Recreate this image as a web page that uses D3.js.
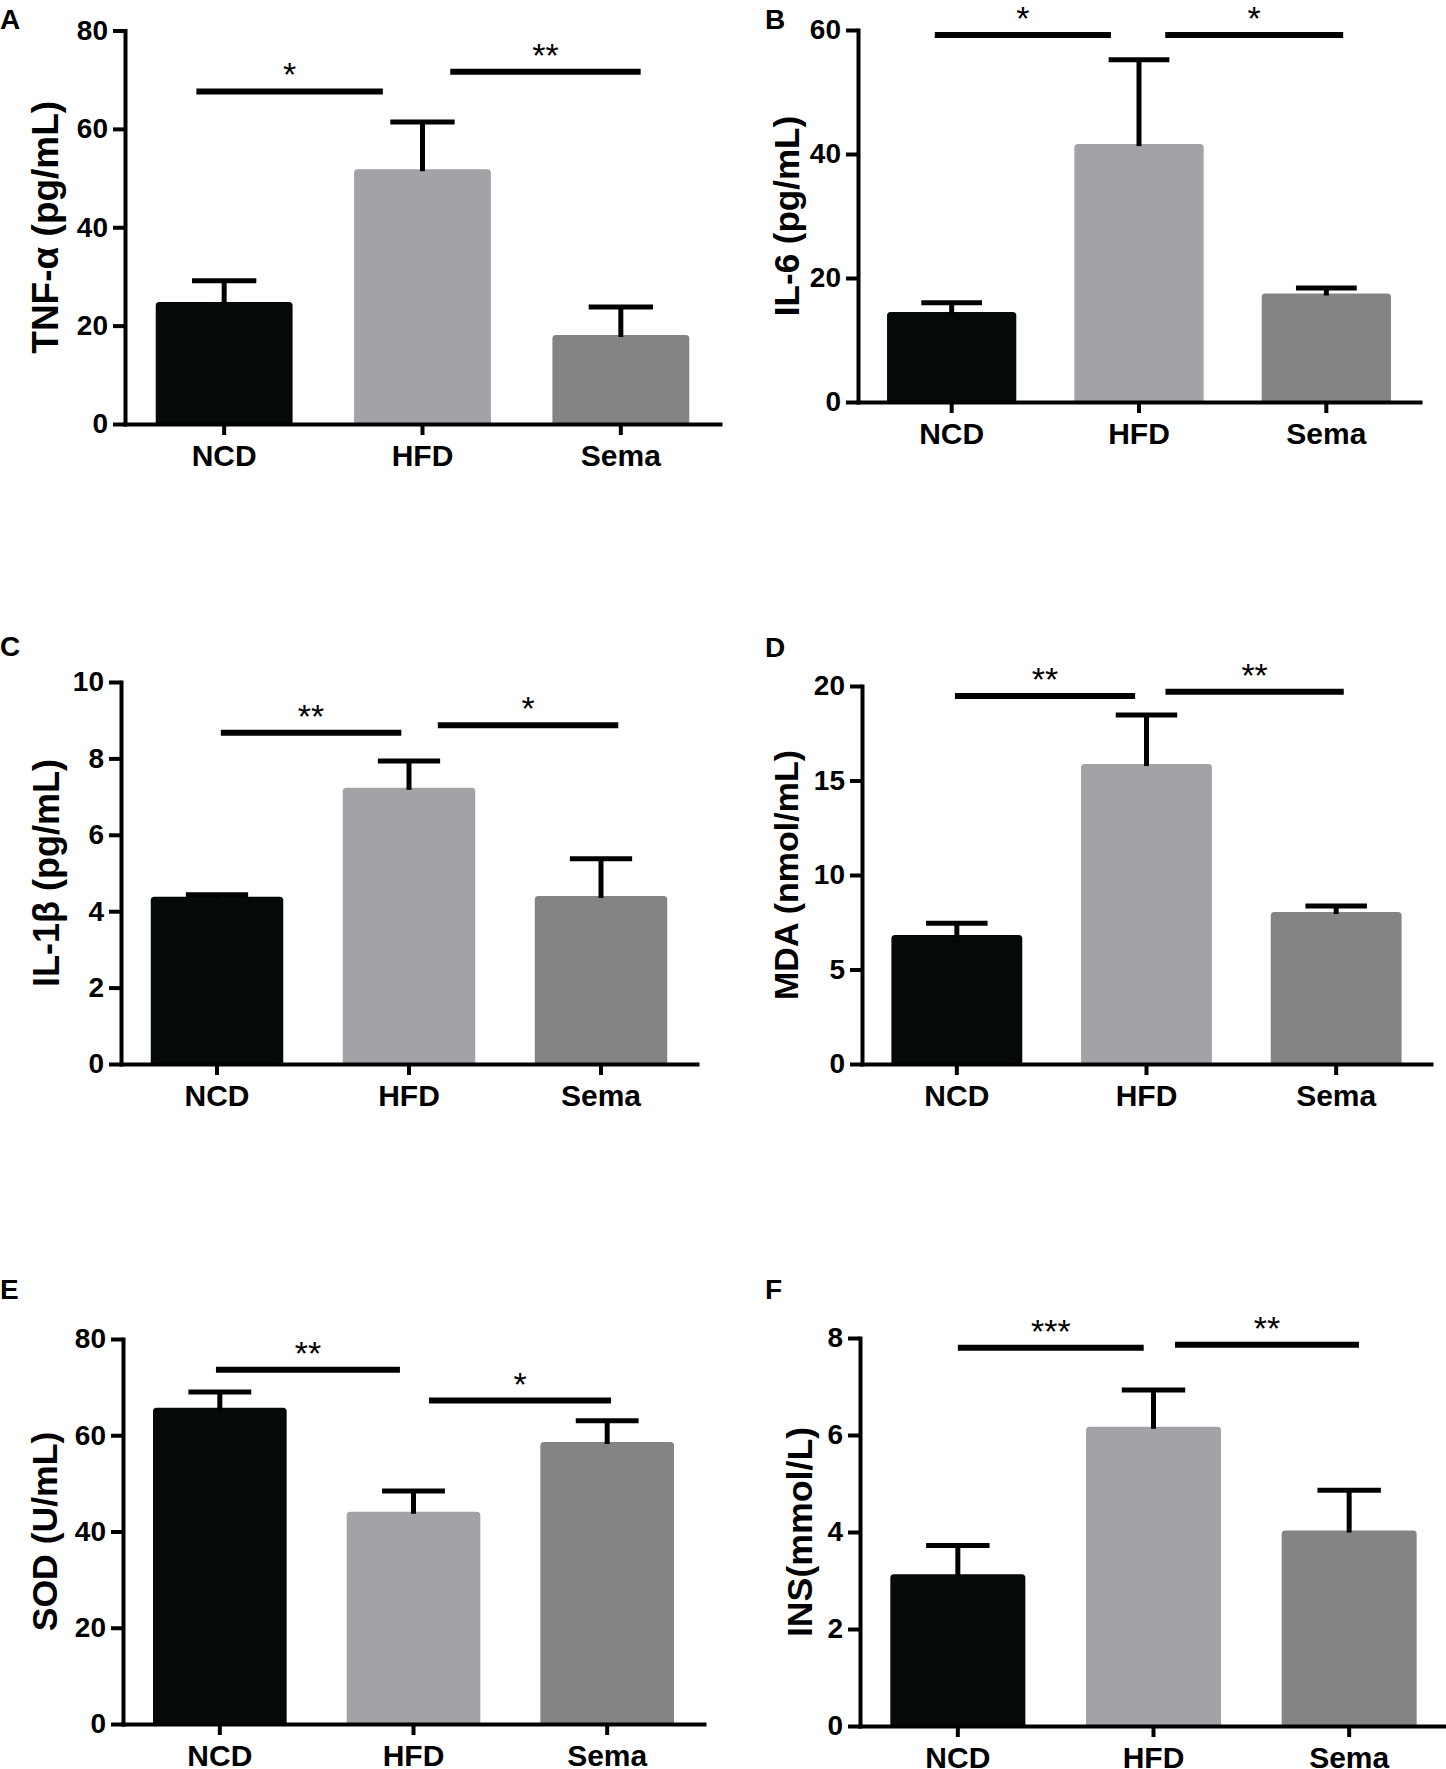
<!DOCTYPE html>
<html>
<head>
<meta charset="utf-8">
<script src="https://cdn.jsdelivr.net/npm/d3@7"></script>
<style>
  body { margin: 0; background: #fff; }
  svg { display: block; }
</style>
</head>
<body>
<script>
// groups and bar fills
const categories = ["NCD", "HFD", "Sema"];
const barColors = ["#050909", "#a3a2a7", "#838483"];

// means and upper error (SEM) for each panel
const tnfMean = [24.8, 51.8, 18.1];
const tnfErr  = [4.3, 9.6, 5.7];
const il6Mean = [14.5, 41.6, 17.5];
const il6Err  = [1.5, 13.6, 0.9];
const il1Mean = [4.38, 7.23, 4.40];
const il1Err  = [0.05, 0.70, 0.97];
const mdaMean = [6.83, 15.87, 8.04];
const mdaErr  = [0.62, 2.60, 0.32];
const sodMean = [65.7, 44.1, 58.6];
const sodErr  = [3.3, 4.3, 4.4];
const insMean = [3.13, 6.17, 4.03];
const insErr  = [0.59, 0.76, 0.83];

// significance brackets: [from, to] in group units (0..3), height in data units, label
const tnfSig = [[0.36, 1.30, 67.6, "*"], [1.64, 2.60, 71.6, "**"]];
const il6Sig = [[0.41, 1.35, 59.2, "*"], [1.64, 2.59, 59.2, "*"]];
const il1Sig = [[0.52, 1.46, 8.67, "**"], [1.65, 2.59, 8.87, "*"]];
const mdaSig = [[0.49, 1.44, 19.47, "**"], [1.60, 2.54, 19.70, "**"]];
const sodSig = [[0.48, 1.43, 73.6, "**"], [1.58, 2.52, 67.2, "*"]];
const insSig = [[0.50, 1.45, 7.80, "***"], [1.61, 2.55, 7.86, "**"]];

// y axis ranges and tick step
const tnfTicks = [0, 80, 20];
const il6Ticks = [0, 60, 20];
const il1Ticks = [0, 10, 2];
const mdaTicks = [0, 20, 5];
const sodTicks = [0, 80, 20];
const insTicks = [0, 8, 2];

const W = 1446, H = 1769;
const boldFont = "'Liberation Sans', Arial, Helvetica, sans-serif";

const svg = d3.select("body").append("svg")
    .attr("width", W)
    .attr("height", H)
    .attr("viewBox", [0, 0, W, H]);

svg.append("rect").attr("width", W).attr("height", H).attr("fill", "#fff");

// panel placement (pixels)
const panels = [
  {letter: "A", title: "TNF-α (pg/mL)", mean: tnfMean, err: tnfErr, sig: tnfSig, ticks: tnfTicks,
   x0: 125, x1: 720, yTop: 30.5, yBot: 424, lx: 0, ly: 29, tx: 45, ts: 37},
  {letter: "B", title: "IL-6 (pg/mL)", mean: il6Mean, err: il6Err, sig: il6Sig, ticks: il6Ticks,
   x0: 858, x1: 1420, yTop: 30, yBot: 402, lx: 765, ly: 29, tx: 786, ts: 35},
  {letter: "C", title: "IL-1β (pg/mL)", mean: il1Mean, err: il1Err, sig: il1Sig, ticks: il1Ticks,
   x0: 121, x1: 697, yTop: 682, yBot: 1064, lx: 0, ly: 656, tx: 46, ts: 36},
  {letter: "D", title: "MDA (nmol/mL)", mean: mdaMean, err: mdaErr, sig: mdaSig, ticks: mdaTicks,
   x0: 862, x1: 1431, yTop: 686, yBot: 1064, lx: 765, ly: 657, tx: 786, ts: 34},
  {letter: "E", title: "SOD (U/mL)", mean: sodMean, err: sodErr, sig: sodSig, ticks: sodTicks,
   x0: 123, x1: 704, yTop: 1339, yBot: 1724, lx: 0, ly: 1299, tx: 45, ts: 35.6},
  {letter: "F", title: "INS(mmol/L)", mean: insMean, err: insErr, sig: insSig, ticks: insTicks,
   x0: 860, x1: 1447, yTop: 1338, yBot: 1726, lx: 765, ly: 1299, tx: 800, ts: 35.7}
];

panels.forEach(drawPanel);

function drawPanel(p) {
  const g = svg.append("g");
  const rows = categories.map((c, i) => ({cat: c, mean: p.mean[i], err: p.err[i], color: barColors[i]}));

  const x = d3.scaleBand()
      .domain(categories)
      .range([p.x0, p.x1])
      .paddingInner(0.31)
      .paddingOuter(0.155);
  const y = d3.scaleLinear()
      .domain([p.ticks[0], p.ticks[1]])
      .range([p.yBot, p.yTop]);
  // position scale in group units, used for the brackets
  const xu = d3.scaleLinear().domain([0, categories.length]).range([p.x0, p.x1]);

  // bars
  g.append("g")
    .selectAll("rect")
    .data(rows)
    .join("rect")
      .attr("x", d => x(d.cat))
      .attr("y", d => y(d.mean))
      .attr("width", x.bandwidth())
      .attr("height", d => y(0) - y(d.mean) + 2)
      .attr("rx", 3.5)
      .attr("fill", d => d.color);

  // error bars (upper only)
  const capW = x.bandwidth() * 0.47;
  const eb = g.append("g").attr("stroke", "#000").attr("stroke-width", 5);
  eb.selectAll("line.stem")
    .data(rows)
    .join("line")
      .attr("class", "stem")
      .attr("x1", d => x(d.cat) + x.bandwidth() / 2)
      .attr("x2", d => x(d.cat) + x.bandwidth() / 2)
      .attr("y1", d => y(d.mean) + 2)
      .attr("y2", d => y(d.mean + d.err));
  eb.selectAll("line.cap")
    .data(rows)
    .join("line")
      .attr("class", "cap")
      .attr("x1", d => x(d.cat) + x.bandwidth() / 2 - capW / 2)
      .attr("x2", d => x(d.cat) + x.bandwidth() / 2 + capW / 2)
      .attr("y1", d => y(d.mean + d.err))
      .attr("y2", d => y(d.mean + d.err));

  // axes
  const yAxis = g.append("g")
      .attr("transform", `translate(${p.x0},0)`)
      .call(d3.axisLeft(y)
        .tickValues(d3.range(p.ticks[0], p.ticks[1] + p.ticks[2] / 2, p.ticks[2]))
        .tickSize(12)
        .tickSizeOuter(0)
        .tickPadding(5));
  const xAxis = g.append("g")
      .attr("transform", `translate(0,${p.yBot})`)
      .call(d3.axisBottom(x).tickSize(11).tickSizeOuter(0).tickPadding(10));

  [yAxis, xAxis].forEach(a => {
    a.select(".domain").attr("stroke", "#000").attr("stroke-width", 4).attr("stroke-linecap", "square");
    a.selectAll(".tick line").attr("stroke", "#000").attr("stroke-width", 4);
    a.attr("font-family", boldFont).attr("font-weight", "bold");
    a.selectAll("text").attr("fill", "#000");
  });
  yAxis.attr("font-size", 28);
  xAxis.attr("font-size", 30);

  // y axis title
  g.append("text")
      .attr("transform", `translate(${p.tx},${(p.yTop + p.yBot) / 2}) rotate(-90)`)
      .attr("text-anchor", "middle")
      .attr("dominant-baseline", "central")
      .attr("font-family", boldFont)
      .attr("font-weight", "bold")
      .attr("font-size", p.ts)
      .text(p.title);

  // panel letter
  g.append("text")
      .attr("x", p.lx)
      .attr("y", p.ly)
      .attr("font-family", boldFont)
      .attr("font-weight", "bold")
      .attr("font-size", 28)
      .text(p.letter);

  // significance brackets
  const sg = g.append("g");
  sg.selectAll("line")
    .data(p.sig)
    .join("line")
      .attr("x1", d => xu(d[0]))
      .attr("x2", d => xu(d[1]))
      .attr("y1", d => y(d[2]))
      .attr("y2", d => y(d[2]))
      .attr("stroke", "#000")
      .attr("stroke-width", 6);
  sg.selectAll("text")
    .data(p.sig)
    .join("text")
      .attr("x", d => (xu(d[0]) + xu(d[1])) / 2)
      .attr("y", d => y(d[2]) - 5)
      .attr("text-anchor", "middle")
      .attr("font-family", boldFont)
      .attr("font-size", 34)
      .text(d => d[3]);
}
</script>
</body>
</html>
